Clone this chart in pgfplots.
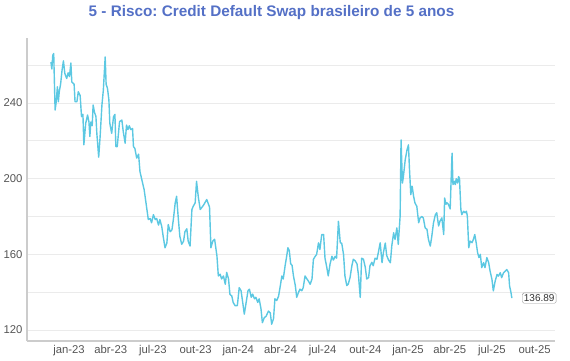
\documentclass[border=0pt]{standalone}
\usepackage{pgfplots}
\pgfplotsset{compat=1.18}
\usepackage{fontspec}
\setmainfont{Liberation Sans}
\frenchspacing
\definecolor{linec}{HTML}{5CC8E2}
\definecolor{titlec}{HTML}{5470C6}
\definecolor{gridc}{HTML}{EBEBEB}
\definecolor{axisc}{HTML}{CCCCCC}
\definecolor{tickc}{HTML}{555555}
\begin{document}
\begin{tikzpicture}
\useasboundingbox (0,0) rectangle (570pt,360pt);
\begin{axis}[
  at={(27pt,19pt)}, anchor=south west,
  width=528pt, height=303pt, scale only axis,
  xmin=-90.6, xmax=1048,
  ymin=114.2, ymax=274.4,
  axis x line*=bottom, axis y line*=left,
  axis line style={draw=axisc, line width=1.2pt},
  xtick={0,90,181,273,365,456,547,639,731,821,912,1004},
  xticklabels={jan-23,abr-23,jul-23,out-23,jan-24,abr-24,jul-24,out-24,jan-25,abr-25,jul-25,out-25},
  ytick={120,160,200,240},
  minor ytick={140,180,220,260},
  ymajorgrids, yminorgrids,
  major grid style={draw=gridc, line width=0.9pt},
  minor grid style={draw=gridc, line width=0.9pt},
  major tick length=0pt, minor tick length=0pt,
  tick label style={font=\fontsize{11.3}{13}\selectfont, text=tickc},
  xticklabel style={yshift=-1pt},
  yticklabel style={xshift=-1pt},
  /pgf/number format/assume math mode=true,
  clip=false,
]
\addplot[linec, line width=1.4pt, line join=round] coordinates {
(-39,261.7)(-37,258)(-35,265.3)(-33,266.2)(-30,236.3)(-28,239.8)(-25,248.6)(-23,240.7)(-21,246)(-18,250.3)
(-15,257.4)(-12,262.3)(-9,255.6)(-5,253)(-2,256)(1,254)(4,261.2)(6,251.2)(11,250)(13,240.7)
(17,240.7)(20,246)(24,244)(27,232.8)(30,234)(32,217.9)(36,229.3)(40,233.7)(43,230)(45,222.3)
(47,230)(50,228)(52,239)(55,235)(58,233)(60,224)(64,211.4)(67,222)(71,239)(74,246.8)
(78,264.4)(80,250)(83,247.7)(86,241.6)(88,229.3)(92,224)(96,232.8)(99,234)(101,217)(104,217)
(109,230.2)(114,231)(117,224.9)(121,218.8)(124,228.4)(127,226)(130,228)(133,226)(137,226.5)(139,217)
(142,216)(146,210.9)(150,213)(153,203.8)(157,199.5)(162,194.2)(165,189)(168,183.7)(171,178.4)(175,179)
(178,176.7)(182,181)(186,178.4)(189,179)(193,175.5)(196,178.4)(200,174.7)(203,169.6)(207,163.5)(211,166)
(214,175.8)(218,172)(222,173)(225,178.4)(229,187.2)(232,190.7)(236,178)(239,169.6)(243,165.3)(247,167)
(250,172)(254,173.5)(257,167)(261,164.4)(265,183.7)(268,185.5)(272,187.2)(275,198.6)(279,190)(283,183.7)
(290,186)(297,189)(303,185)(306,163.5)(310,167)(314,168)(319,159.1)(322,148.6)(326,149.5)(329,147)
(333,148.6)(337,144.2)(340,150.5)(344,147)(347,138.9)(351,138)(354,134.6)(358,132.9)(363,132.9)(367,142.4)
(371,140.8)(375,133.8)(378,128.4)(382,134.6)(386,140.8)(389,141.6)(393,137.3)(396,139)(400,136.5)(403,137.3)
(407,134.6)(410,136.5)(414,131.2)(417,123.9)(421,126.5)(425,127.3)(430,130)(434,129)(437,123.1)(441,126)
(444,136.5)(448,135.6)(452,138)(455,142.4)(459,148.6)(462,147)(466,154)(470,160)(472,163.5)(475,162)
(478,155)(481,154.2)(484,148.6)(488,143.5)(491,137.3)(495,140)(498,141.6)(502,140.8)(505,142.4)(509,148.6)
(513,147)(516,146)(520,144.2)(524,147)(527,157.4)(531,159)(534,160)(538,166.1)(541,162.6)(545,170.5)
(549,170.5)(552,158)(556,153)(559,148.6)(563,155)(567,159)(570,157)(574,159)(577,158)(581,177.5)
(585,166)(588,166)(592,160)(595,148.6)(599,143.5)(602,144.2)(606,147.7)(610,154)(613,157.4)(617,156.6)
(621,155)(624,149.5)(628,137.3)(631,158)(635,157.4)(639,153)(642,147)(646,147.7)(649,154)(653,155.8)
(656,154)(660,158)(664,157.4)(667,160.9)(671,166.1)(675,155.6)(678,161)(682,166)(685,159.5)(689,157)
(693,155.6)(696,164.4)(700,171.4)(703,167.9)(707,174)(710,165.3)(714,180.2)(716,220.5)(719,197.7)(721,201)
(725,210)(729,215.4)(732,217.9)(734,206)(737,191.6)(740,196)(743,190.8)(746,187.2)(750,185.4)(754,176.7)
(757,179.3)(761,180)(764,179.3)(768,174)(772,173.2)(775,168)(779,164.4)(782,169)(786,176.7)(790,181)
(793,182)(797,175)(800,177.6)(804,179.3)(808,170.5)(810,189.8)(813,186.5)(815,187.3)(818,186.5)(822,184)
(824,199.5)(826,213.5)(828,196.9)(831,198.6)(833,196.9)(835,200)(838,197.7)(840,201.1)(842,200.3)(845,183.7)
(847,181)(851,182.8)(854,182)(857,182.8)(859,180.2)(862,163.5)(865,167)(869,166.2)(872,167.9)(875,170.5)
(878,166.2)(881,161)(884,158.3)(887,160)(890,153)(894,155.6)(897,153)(901,158.3)(905,155.6)(908,151.2)
(912,146.8)(915,140.7)(919,145.9)(923,149.4)(926,148.5)(930,150.3)(933,147.7)(937,150.3)(941,151.2)(944,152)
(948,150.3)(950,143.4)(953,139.9)(955,136.89)
};
\node[anchor=west, draw=gray!80, fill=white, rounded corners=1.5pt, inner sep=1.6pt,
  font=\fontsize{10}{11}\selectfont, text=black!80] at (axis cs:977,136.89) {136.89};
\end{axis}
\node[font=\bfseries\fontsize{15.3}{17}\selectfont, text=titlec] at (271.5pt,347pt) {5 - Risco: Credit Default Swap brasileiro de 5 anos};
\end{tikzpicture}
\end{document}
